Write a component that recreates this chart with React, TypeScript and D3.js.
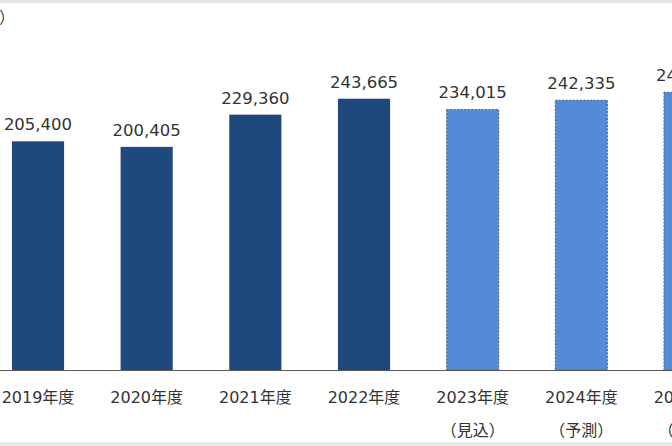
import React from "react";
import * as d3 from "d3";

const categories = ["2019年度", "2020年度", "2021年度", "2022年度", "2023年度", "2024年度", "2025年度"];
const subLabels = ["", "", "", "", "（見込）", "（予測）", "（予測）"];
const values = [205400, 200405, 229360, 243665, 234015, 242335, 249500];
const isForecast = [false, false, false, false, true, true, true];
const unitLabel = "（百万円）";

const W = 672;
const H = 446;

export default function App() {
  const baseY = 370;
  const step = 108.67;
  const x = d3
    .scaleBand<string>()
    .domain(categories)
    .range([38 - step / 2, 38 - step / 2 + step * categories.length])
    .paddingInner(0.52)
    .paddingOuter(0.26);
  const y = d3.scaleLinear().domain([0, 300000]).range([baseY, 36]);
  const fmt = d3.format(",");
  const font = "'DejaVu Sans', 'Noto Sans CJK JP', sans-serif";
  const cjk = "'Noto Sans CJK JP', sans-serif";

  return (
    <svg
      width={W}
      height={H}
      style={{ position: "fixed", left: 0, top: 0, background: "#fff" }}
      fontFamily={font}
    >
      <rect x={0} y={0} width={W} height={H} fill="#fff" />
      <rect x={0} y={0} width={W} height={3} fill="#e6e6e6" />
      <rect x={0} y={442} width={W} height={4} fill="#e8e8e8" />
      <text x={15} y={23} textAnchor="end" fontSize={16} fill="#404040" fontFamily={cjk}>
        {unitLabel}
      </text>
      {categories.map((c, i) => {
        const bx = x(c)!;
        const bw = x.bandwidth();
        const top = y(values[i]);
        const cx = bx + bw / 2;
        return (
          <g key={c}>
            <rect
              x={bx}
              y={top}
              width={bw}
              height={baseY - top}
              fill={isForecast[i] ? "#558ad6" : "#1f497d"}
              stroke={isForecast[i] ? "#3f4f66" : "none"}
              strokeWidth={0.8}
              strokeDasharray={isForecast[i] ? "2,1.5" : undefined}
            />
            <text x={cx} y={top - 11} textAnchor="middle" fontSize={16.5} fill="#333">
              {fmt(values[i])}
            </text>
            <text x={cx} y={403} textAnchor="middle" fontSize={16} fill="#333">
              {c}
            </text>
            {subLabels[i] && (
              <text x={cx} y={436} textAnchor="middle" fontSize={16} fill="#333" fontFamily={cjk}>
                {subLabels[i]}
              </text>
            )}
          </g>
        );
      })}
      <line x1={0} x2={W} y1={baseY + 0.5} y2={baseY + 0.5} stroke="#595959" strokeWidth={1} />
    </svg>
  );
}
